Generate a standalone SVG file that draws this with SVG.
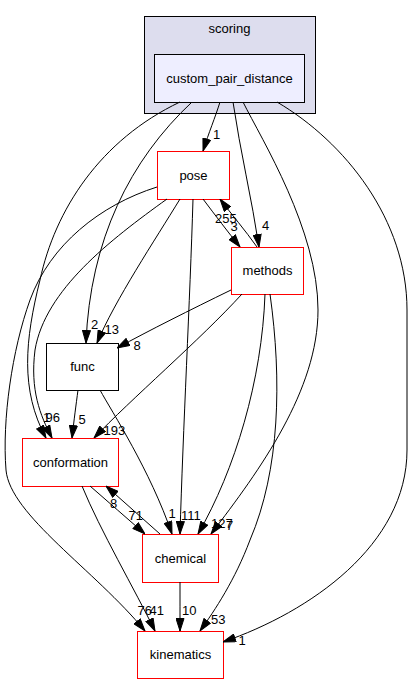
<svg xmlns="http://www.w3.org/2000/svg" width="414" height="684" viewBox="0 0 414 684">
<style>
text{font-family:"Liberation Sans",Arial,sans-serif;font-size:13px;fill:#000}
.n text,.c text{text-anchor:middle}
.red{fill:#fff;stroke:#ff0000;stroke-width:1}
.blk{fill:#fff;stroke:#000;stroke-width:1}
.e path{fill:none;stroke:#000;stroke-width:1;marker-end:url(#ah)}
</style>
<defs>
<marker id="ah" viewBox="0 0 13 9" refX="13" refY="4.5" markerWidth="13" markerHeight="9" markerUnits="userSpaceOnUse" orient="auto">
<path d="M0.5,0.5 L13,4.5 L0.5,8.5 Z" fill="#000" stroke="#000" stroke-width="1"/>
</marker>
</defs>
<rect width="414" height="684" fill="#fff"/>
<g id="cluster_scoring" class="c">
<rect x="144.5" y="16.5" width="171" height="97" fill="#ddddee" stroke="#000"/>
<text x="229.5" y="33">scoring</text>
</g>
<g id="node_custom_pair_distance" class="n">
<rect x="154.5" y="54.5" width="150" height="48" fill="#eeeeff" stroke="#000"/>
<text x="229.5" y="82.5">custom_pair_distance</text>
</g>
<g id="node_pose" class="n">
<rect class="red" x="157.5" y="151.5" width="72" height="48"/>
<text x="193.5" y="179.5">pose</text>
</g>
<g id="node_methods" class="n">
<rect class="red" x="231.5" y="247.5" width="72" height="47"/>
<text x="267.5" y="275">methods</text>
</g>
<g id="node_func" class="n">
<rect class="blk" x="46.5" y="343.5" width="72" height="47"/>
<text x="82.5" y="371">func</text>
</g>
<g id="node_conformation" class="n">
<rect class="red" x="22.5" y="438.5" width="96" height="48"/>
<text x="70.5" y="466.5">conformation</text>
</g>
<g id="node_chemical" class="n">
<rect class="red" x="142.5" y="534.5" width="76" height="48"/>
<text x="180.5" y="562.5">chemical</text>
</g>
<g id="node_kinematics" class="n">
<rect class="red" x="137.5" y="631.5" width="86" height="47"/>
<text x="180.5" y="659">kinematics</text>
</g>
<g id="edges" class="e">
<path d="M220,102 C215,118 209,132 203,151"/>
<path d="M233,102 C240,150 252,200 259,247"/>
<path d="M243,102 C262,140 318,230 318,310 C318,390 260,470 211,534"/>
<path d="M277,102 C345,142 407,220 407,310 L407,450 C407,545 310,612 223,642"/>
<path d="M192,102 C130,160 90,240 86,343"/>
<path d="M180,102 C100,140 55,210 40,280 C25,340 20,390 46,438"/>
<path d="M157,187 C100,205 50,245 30,300 C12,350 2,420 6,470 C10,515 95,570 145,631"/>
<path d="M167,199 C110,240 45,290 35,350 C30,390 40,415 52,438"/>
<path d="M180,199 C155,240 115,300 97,343"/>
<path d="M193,199 C190,300 183,430 180,534"/>
<path d="M203,199 C215,215 228,232 240,247"/>
<path d="M257,247 C245,230 232,215 220,199"/>
<path d="M231,290 C190,310 150,330 117,348"/>
<path d="M242,294 C200,340 130,400 94,438"/>
<path d="M265,294 C262,380 235,470 198,534"/>
<path d="M270,294 C282,380 280,470 250,540 C235,580 215,610 200,631"/>
<path d="M78,390 C76,405 74,420 72,438"/>
<path d="M100,390 C112,412 150,470 172,534"/>
<path d="M90,486 C108,502 127,518 145,534"/>
<path d="M160,534 C142,518 124,502 106,486"/>
<path d="M82,486 C100,530 135,590 155,631"/>
<path d="M180,582 C180,598 180,614 180,631"/>
</g>
<g id="edge_labels">
<text x="213" y="139">1</text>
<text x="262" y="230">4</text>
<text x="230.5" y="230.5">3</text>
<text x="215" y="222.5">255</text>
<text x="91" y="328.5">2</text>
<text x="104.5" y="333.5">13</text>
<text x="133.5" y="350">8</text>
<text x="43" y="421.5">1</text>
<text x="45.5" y="421.5">96</text>
<text x="78.5" y="424">5</text>
<text x="103.5" y="435">193</text>
<text x="110" y="507.5">8</text>
<text x="128.5" y="520">71</text>
<text x="168.5" y="517.5">1</text>
<text x="181" y="520">111</text>
<text x="211" y="528">127</text>
<text x="226" y="530">7</text>
<text x="137.5" y="615">76</text>
<text x="149.5" y="615">41</text>
<text x="182" y="615">10</text>
<text x="211" y="624">53</text>
<text x="238.5" y="645">1</text>
</g>
</svg>
